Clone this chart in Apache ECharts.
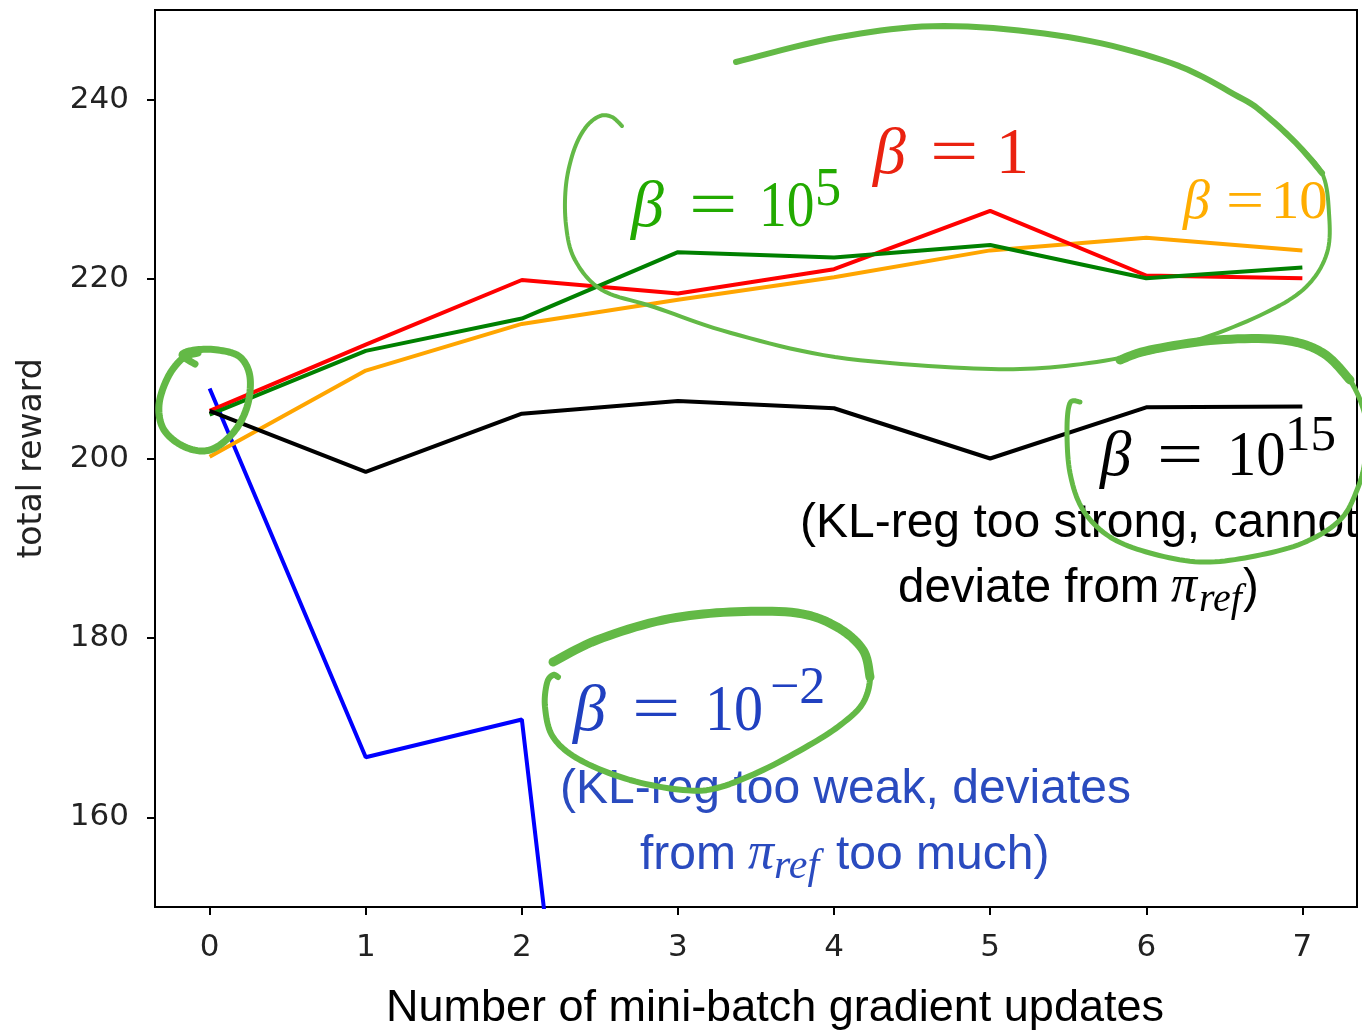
<!DOCTYPE html>
<html>
<head>
<meta charset="utf-8">
<script src="https://cdn.jsdelivr.net/npm/echarts@6/dist/echarts.min.js"></script>
<style>
  html, body { margin: 0; padding: 0; background: #fff; }
  #chart { width: 1362px; height: 1030px; }
</style>
</head>
<body>
<div id="chart"></div>
<script>
// ---- data ----
const steps = [0, 1, 2, 3, 4, 5, 6, 7];
const xTicks = [0, 1, 2, 3, 4, 5, 6, 7];
const yTicks = [160, 180, 200, 220, 240];
const betaNeg2 = [207.8, 166.7, 170.9, 22.0];          // beta = 1e-2 (drops off the chart)
const beta1    = [205.3, 212.7, 219.9, 218.4, 221.1, 227.6, 220.4, 220.1];
const beta10   = [200.2, 209.8, 215.0, 217.7, 220.2, 223.2, 224.6, 223.2];
const beta1e5  = [204.9, 212.0, 215.6, 223.0, 222.4, 223.8, 220.1, 221.3];
const beta1e15 = [205.3, 198.5, 205.0, 206.4, 205.6, 200.0, 205.7, 205.8];

const pairs = arr => arr.map((v, i) => [steps[i], v]);

// ---- helpers for the hand-drawn annotation strokes ----
function sampleCR(pts, n) {
  const out = [];
  for (let i = 0; i < pts.length - 1; i++) {
    const p0 = pts[i - 1] || pts[i], p1 = pts[i], p2 = pts[i + 1], p3 = pts[i + 2] || p2;
    for (let k = 0; k < n; k++) {
      const t = k / n, t2 = t * t, t3 = t2 * t;
      const f = j => 0.5 * (2 * p1[j] + (-p0[j] + p2[j]) * t +
        (2 * p0[j] - 5 * p1[j] + 4 * p2[j] - p3[j]) * t2 +
        (-p0[j] + 3 * p1[j] - 3 * p2[j] + p3[j]) * t3);
      out.push([f(0), f(1)]);
    }
  }
  out.push(pts[pts.length - 1]);
  return out;
}
const PEN = '#63b946';
function stroke(pts, w) {
  return { type: 'polyline', z: 200, silent: true,
    shape: { points: sampleCR(pts, 10) },
    style: { fill: null, stroke: PEN, lineWidth: w, lineCap: 'round', lineJoin: 'round' } };
}
const K = 0.30; // baseline offset factor for 'middle' vertical alignment
function txt(x, base, s, size, color, family, italic, sx) {
  const el = { type: 'text', z: 150, silent: true, x: x, y: base - K * size,
    style: { text: s, fill: color, fontSize: size, fontFamily: family,
      fontStyle: italic ? 'italic' : 'normal', align: 'left', verticalAlign: 'middle' } };
  if (sx) { el.scaleX = sx; }
  return el;
}
const SERIF = 'Liberation Serif';
const SANS = 'Liberation Sans';

const annotations = [
  // green beta = 10^5
  txt(631, 228, 'β', 66, '#22aa00', SERIF, true),
  txt(689, 228, '=', 66, '#22aa00', SERIF, false, 1.3),
  txt(759, 228, '10', 66, '#22aa00', SERIF, false, 0.84),
  txt(815, 207, '5', 55, '#22aa00', SERIF, false, 0.95),
  // red beta = 1
  txt(873, 175, 'β', 66, '#ea2210', SERIF, true),
  txt(930, 175, '=', 66, '#ea2210', SERIF, false, 1.3),
  txt(996, 175, '1', 66, '#ea2210', SERIF, false),
  // orange beta = 10
  txt(1183, 220, 'β', 54, '#ffad00', SERIF, true),
  txt(1226, 220, '=', 54, '#ffad00', SERIF, false, 1.25),
  txt(1271, 220, '10', 54, '#ffad00', SERIF, false, 1.05),
  // black beta = 10^15
  txt(1100, 477, 'β', 63, '#000', SERIF, true),
  txt(1157, 477, '=', 63, '#000', SERIF, false, 1.3),
  txt(1227, 477, '10', 63, '#000', SERIF, false, 0.93),
  txt(1285, 452, '15', 51, '#000', SERIF, false),
  txt(800, 538, '(KL-reg too strong, cannot', 48, '#000', SANS, false),
  txt(898, 603, 'deviate from', 47.5, '#000', SANS, false),
  txt(1171, 603, 'π', 52, '#000', SERIF, true),
  txt(1199, 612, 'ref', 40, '#000', SERIF, true),
  txt(1243, 603, ')', 47.5, '#000', SANS, false),
  // blue beta = 10^-2
  txt(573, 732, 'β', 66, '#2040c0', SERIF, true),
  txt(632, 732, '=', 66, '#2040c0', SERIF, false, 1.3),
  txt(705, 732, '10', 66, '#2040c0', SERIF, false, 0.88),
  txt(770, 705, '−2', 52, '#2040c0', SERIF, false),
  txt(560, 804, '(KL-reg too weak, deviates', 48, '#2a4bbf', SANS, false),
  txt(640, 870, 'from', 48, '#2a4bbf', SANS, false),
  txt(748, 870, 'π', 52, '#2a4bbf', SERIF, true),
  txt(774, 880, 'ref', 42, '#2a4bbf', SERIF, true),
  txt(836, 870, 'too much)', 48, '#2a4bbf', SANS, false),
  // hand-drawn green pen strokes
  stroke([[622,126],[612,117],[600,116],[586,127],[574,150],[566,185],[566,225],[575,260],[602,290],[654,307],[731,333],[835,357],[964,368],[1042,368],[1120,358],[1197,340],[1265,313],[1306,287],[1327,253],[1329,213],[1322,173],[1296,143]], 4),
  stroke([[1322,173],[1296,143],[1262,112],[1239,97],[1171,63],[1068,37],[944,26],[840,37],[736,62]], 6),
  stroke([[1120,360],[1150,350],[1217,340],[1283,340],[1323,353],[1350,380]], 9),
  stroke([[1323,353],[1350,380],[1366,420],[1365,460],[1357,490],[1340,520],[1303,543],[1250,557],[1200,562],[1150,553],[1110,537],[1083,510],[1070,473],[1067,430],[1070,403],[1080,402]], 5),
  stroke([[553,662],[597,640],[663,620],[730,612],[797,613],[837,627],[863,650],[870,677]], 9),
  stroke([[863,650],[870,677],[863,703],[843,723],[813,743],[763,770],[717,788],[683,790],[630,780],[580,760],[553,737],[545,707],[547,683],[553,675],[558,677]], 6),
  stroke([[195,364],[182,355],[195,350],[218,350],[240,357],[250,377],[247,407],[233,433],[210,450],[185,447],[164,430],[159,405],[168,377],[183,358],[198,353]], 7)
];

const chart = echarts.init(document.getElementById('chart'), null, { renderer: 'canvas' });
const lineSeries = (name, data, color) => ({
  name: name, type: 'line', data: pairs(data), showSymbol: false, symbol: 'none',
  clip: true, lineStyle: { color: color, width: 4 }, itemStyle: { color: color },
  emphasis: { disabled: true }, animation: false
});

chart.setOption({
  animation: false,
  backgroundColor: '#fff',
  grid: { left: 155, right: 5, top: 10, bottom: 123, show: true, borderColor: '#000', borderWidth: 2,
          containLabel: false, outerBoundsMode: 'none' },
  xAxis: {
    type: 'value', min: -0.35, max: 7.35,
    name: 'Number of mini-batch gradient updates', nameLocation: 'middle', nameGap: 79,
    nameTextStyle: { fontFamily: SANS, fontSize: 45, color: '#000', padding: [0, 0, 0, 38] },
    axisLine: { show: true, onZero: false, lineStyle: { color: '#000', width: 2 } },
    axisTick: { show: true, customValues: xTicks, length: 8, lineStyle: { color: '#000', width: 2 } },
    axisLabel: { customValues: xTicks, margin: 25, fontFamily: 'DejaVu Sans', fontSize: 31, color: '#222' },
    splitLine: { show: false }
  },
  yAxis: {
    type: 'value', min: 150, max: 250,
    name: 'total reward', nameLocation: 'middle', nameGap: 106, nameRotate: 90,
    nameTextStyle: { fontFamily: 'DejaVu Sans', fontSize: 33, color: '#222' },
    axisLine: { show: true, onZero: false, lineStyle: { color: '#000', width: 2 } },
    axisTick: { show: true, customValues: yTicks, length: 8, lineStyle: { color: '#000', width: 2 } },
    axisLabel: { customValues: yTicks, margin: 26, fontFamily: 'DejaVu Sans', fontSize: 31, color: '#222' },
    splitLine: { show: false }
  },
  series: [
    lineSeries('β = 10^-2', betaNeg2, '#0000ff'),
    lineSeries('β = 10', beta10, '#ffa500'),
    lineSeries('β = 1', beta1, '#ff0000'),
    lineSeries('β = 10^5', beta1e5, '#008000'),
    lineSeries('β = 10^15', beta1e15, '#000000')
  ],
  graphic: annotations
});
</script>
</body>
</html>
